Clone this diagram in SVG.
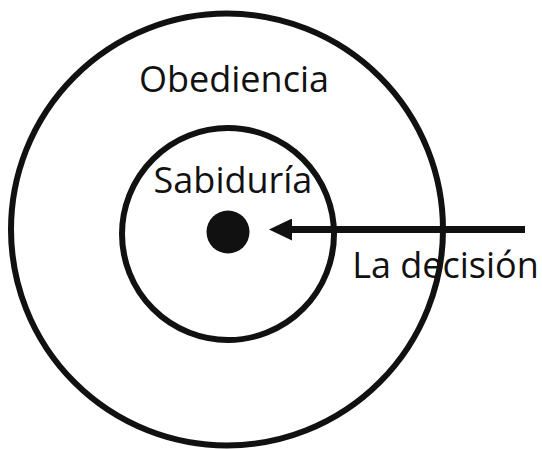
<svg xmlns="http://www.w3.org/2000/svg" width="542" height="449" viewBox="0 0 542 449">
  <style>
    .ring { fill: none; stroke: #111; stroke-width: 6; }
    .lbl { font-family: "Open Sans", "Noto Sans", "Liberation Sans", sans-serif; font-size: 36px; fill: #111; text-anchor: middle; }
    .conn { stroke: #111; stroke-width: 7; fill: none; }
  </style>
  <defs>
    <marker id="arrowhead" markerUnits="userSpaceOnUse" markerWidth="24" markerHeight="22" refX="1" refY="11" orient="auto">
      <polygon points="23,11 0,0 0,22" fill="#111"/>
    </marker>
  </defs>
  <rect width="542" height="449" fill="#fff"/>
  <g id="obediencia">
    <circle class="ring" cx="227" cy="229.5" r="216"/>
    <text class="lbl" x="234" y="92">Obediencia</text>
  </g>
  <g id="sabiduria">
    <circle class="ring" cx="228" cy="234" r="106"/>
    <text class="lbl" x="233" y="193">Sabiduría</text>
  </g>
  <g id="centro">
    <circle cx="228" cy="232" r="21.5" fill="#111"/>
  </g>
  <g id="connectors">
    <line class="conn" x1="525" y1="229.5" x2="291" y2="229.5" marker-end="url(#arrowhead)"/>
  </g>
  <g id="decision">
    <text class="lbl" x="445.5" y="277.5">La decisión</text>
  </g>
</svg>
